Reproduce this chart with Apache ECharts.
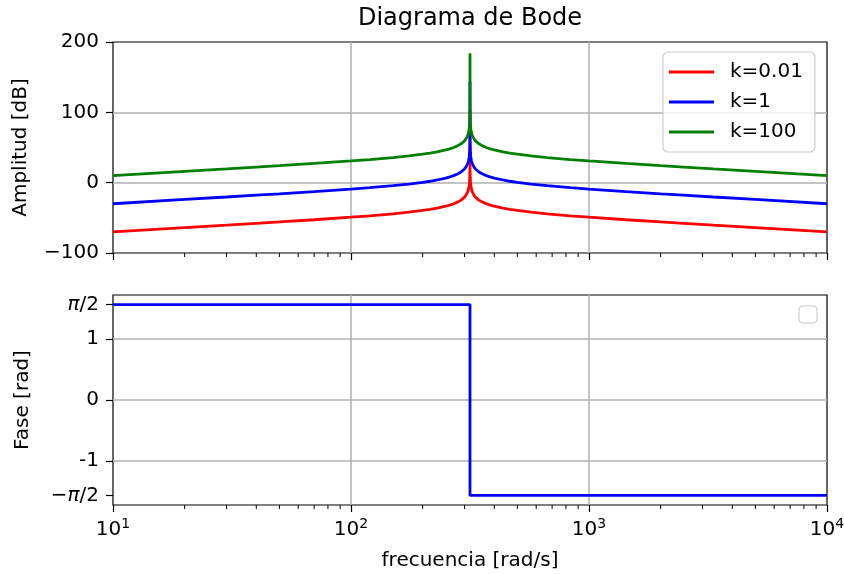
<!DOCTYPE html>
<html>
<head>
<meta charset="utf-8">
<script src="https://cdn.jsdelivr.net/npm/echarts@6/dist/echarts.min.js"></script>
<style>
  html, body { margin: 0; padding: 0; background: #fff; }
  #chart { width: 844px; height: 574px; }
</style>
</head>
<body>
<div id="chart"></div>
<script>
// frecuencias [rad/s]
const freq = [10, 20, 30, 40, 50, 70, 100, 120, 150, 175, 200, 215, 230, 250, 260, 270, 280, 285, 290, 295, 300, 305, 310, 312, 314, 315, 316,
  316.23, 316.46, 317.5, 318.5, 320.5, 322.6, 327.9, 333.3, 339, 344.8, 350.9, 357.1, 370.4, 384.6, 400, 434.8, 465, 500, 571.4, 666.7,
  833.3, 1000, 1428.6, 2000, 2500, 3333, 5000, 10000]

// amplitud [dB]
const ampK001 = [-70.0, -63.9, -60.4, -57.8, -55.8, -52.7, -49.1, -47.1, -44.3, -42.0, -39.5, -38.0, -36.2, -33.5, -31.9, -30.0, -27.7, -26.4, -24.8, -22.9, -20.5, -17.2, -12.0, -8.6, -3.0, 2.2, 16.8,
  104, 16.8, 2.2, -3.0, -8.6, -12.0, -17.2, -20.5, -22.9, -24.8, -26.4, -27.7, -30.0, -31.9, -33.5, -36.2, -38.0, -39.5, -42.0, -44.3,
  -47.1, -49.1, -52.7, -55.8, -57.8, -60.4, -63.9, -70.0]
const ampK1 = [-30.0, -23.9, -20.4, -17.8, -15.8, -12.7, -9.1, -7.1, -4.3, -2.0, 0.5, 2.0, 3.8, 6.5, 8.1, 10.0, 12.3, 13.6, 15.2, 17.1, 19.5, 22.8, 28.0, 31.4, 37.0, 42.2, 56.8,
  144, 56.8, 42.2, 37.0, 31.4, 28.0, 22.8, 19.5, 17.1, 15.2, 13.6, 12.3, 10.0, 8.1, 6.5, 3.8, 2.0, 0.5, -2.0, -4.3,
  -7.1, -9.1, -12.7, -15.8, -17.8, -20.4, -23.9, -30.0]
const ampK100 = [10.0, 16.1, 19.6, 22.2, 24.2, 27.3, 30.9, 32.9, 35.7, 38.0, 40.5, 42.0, 43.8, 46.5, 48.1, 50.0, 52.3, 53.6, 55.2, 57.1, 59.5, 62.8, 68.0, 71.4, 77.0, 82.2, 96.8,
  184, 96.8, 82.2, 77.0, 71.4, 68.0, 62.8, 59.5, 57.1, 55.2, 53.6, 52.3, 50.0, 48.1, 46.5, 43.8, 42.0, 40.5, 38.0, 35.7,
  32.9, 30.9, 27.3, 24.2, 22.2, 19.6, 16.1, 10.0]

// fase [rad]
const phaseFreq = [10, 316.23, 316.23, 10000]
const phaseVal = [1.5708, 1.5708, -1.5708, -1.5708]

const seriesNames = ['k=0.01', 'k=1', 'k=100']
const phaseTicks = [-1.5708, -1, 0, 1, 1.5708]
const minorTicks = [20, 30, 40, 50, 60, 70, 80, 90, 200, 300, 400, 500, 600, 700, 800, 900,
  2000, 3000, 4000, 5000, 6000, 7000, 8000, 9000]

const FONT = 'DejaVu Sans'
const pairs = (xs, ys) => xs.map((x, i) => [x, ys[i]])
const gridLine = { show: true, showMinLine: false, showMaxLine: false, lineStyle: { color: '#b0b0b0', width: 1.5 } }

function xAxisOpt(gridIndex, showLabels) {
  return {
    type: 'log', logBase: 10, gridIndex, min: 10, max: 10000,
    axisLine: { show: false, onZero: false },
    axisTick: { length: 7, lineStyle: { color: '#000', width: 1.2 } },
    axisLabel: {
      show: showLabels, margin: 12, color: '#000', fontFamily: FONT,
      formatter: v => '{b|10}{s|' + Math.round(Math.log10(v)) + '}',
      rich: {
        b: { fontSize: 20, lineHeight: 23, verticalAlign: 'bottom', fontFamily: FONT, color: '#000' },
        s: { fontSize: 14, lineHeight: 14, verticalAlign: 'top', fontFamily: FONT, color: '#000' }
      }
    },
    splitLine: gridLine,
    name: showLabels ? 'frecuencia [rad/s]' : '',
    nameLocation: 'middle', nameGap: 46,
    nameTextStyle: { fontSize: 20, fontFamily: FONT, color: '#000' }
  }
}

// ticks menores del eje log
function minorSeries(idx) {
  return {
    type: 'custom', xAxisIndex: idx, yAxisIndex: idx, silent: true, clip: false, z: 5,
    data: minorTicks.map(v => [v, 0]),
    renderItem: (params, api) => {
      const x = api.coord([api.value(0), 0])[0]
      const y = params.coordSys.y + params.coordSys.height
      return {
        type: 'line',
        shape: { x1: x, y1: y, x2: x, y2: y + 4 },
        style: { stroke: '#000', lineWidth: 1 }
      }
    }
  }
}

function lineSeries(name, data, color) {
  return {
    name, type: 'line', xAxisIndex: 0, yAxisIndex: 0, data,
    showSymbol: false, symbol: 'none', z: 3,
    lineStyle: { color, width: 2.8 }, itemStyle: { color }
  }
}

const gridBase = {
  left: 113, right: 17, show: true, borderColor: '#000', borderWidth: 1.2,
  backgroundColor: 'transparent', outerBoundsMode: 'none', containLabel: false
}

const chart = echarts.init(document.getElementById('chart'))
chart.setOption({
  animation: false,
  textStyle: { fontFamily: FONT },
  graphic: [
    {
      type: 'text', x: 470, y: 7, z: 10,
      style: { text: 'Diagrama de Bode', fontSize: 24, fontFamily: FONT, fill: '#000', align: 'center', verticalAlign: 'top' }
    },
    {
      // leyenda vacia del segundo grafico
      type: 'rect', z: 10,
      shape: { x: 799, y: 306, width: 18, height: 17, r: 4 },
      style: { fill: 'rgba(255,255,255,0.8)', stroke: '#cccccc', lineWidth: 1.2 }
    }
  ],
  legend: {
    data: seriesNames, orient: 'vertical', left: 663, top: 52,
    icon: 'rect', itemWidth: 45, itemHeight: 3, itemGap: 10,
    padding: [10, 12, 10, 6],
    backgroundColor: 'rgba(255,255,255,0.8)', borderColor: '#cccccc', borderWidth: 1.2, borderRadius: 5,
    textStyle: { fontSize: 20, fontFamily: FONT, color: '#000', padding: [0, 0, 0, 11] }
  },
  grid: [
    Object.assign({ top: 42, height: 211 }, gridBase),
    Object.assign({ top: 295, height: 210 }, gridBase)
  ],
  xAxis: [xAxisOpt(0, false), xAxisOpt(1, true)],
  yAxis: [
    {
      type: 'value', gridIndex: 0, min: -100, max: 200, interval: 100,
      axisLine: { show: false },
      axisTick: { show: true, length: 7, lineStyle: { color: '#000', width: 1.2 } },
      axisLabel: {
        margin: 14, fontSize: 20, color: '#000', fontFamily: FONT,
        formatter: v => (v < 0 ? '\u2212' + Math.abs(v) : String(v))
      },
      splitLine: gridLine,
      name: 'Amplitud [dB]', nameLocation: 'middle', nameGap: 82,
      nameTextStyle: { fontSize: 20, fontFamily: FONT, color: '#000' }
    },
    {
      type: 'value', gridIndex: 1, min: -1.7279, max: 1.7279,
      axisLine: { show: false },
      axisTick: { show: true, length: 7, customValues: phaseTicks, lineStyle: { color: '#000', width: 1.2 } },
      axisLabel: {
        margin: 14, fontSize: 20, color: '#000', fontFamily: FONT, customValues: phaseTicks,
        formatter: v => {
          if (Math.abs(v - 1.5708) < 1e-3) return '{i|\u03c0}/2'
          if (Math.abs(v + 1.5708) < 1e-3) return '\u2212{i|\u03c0}/2'
          return String(v)
        },
        rich: { i: { fontStyle: 'italic', fontSize: 20, fontFamily: FONT, color: '#000' } }
      },
      splitLine: gridLine,
      name: 'Fase [rad]', nameLocation: 'middle', nameGap: 80,
      nameTextStyle: { fontSize: 20, fontFamily: FONT, color: '#000' }
    }
  ],
  series: [
    lineSeries(seriesNames[0], pairs(freq, ampK001), '#ff0000'),
    lineSeries(seriesNames[1], pairs(freq, ampK1), '#0000ff'),
    lineSeries(seriesNames[2], pairs(freq, ampK100), '#008000'),
    {
      type: 'line', xAxisIndex: 1, yAxisIndex: 1, data: pairs(phaseFreq, phaseVal),
      showSymbol: false, symbol: 'none', z: 3,
      lineStyle: { color: '#0000ff', width: 2.8 }, itemStyle: { color: '#0000ff' }
    },
    minorSeries(0),
    minorSeries(1)
  ]
})
</script>
</body>
</html>
